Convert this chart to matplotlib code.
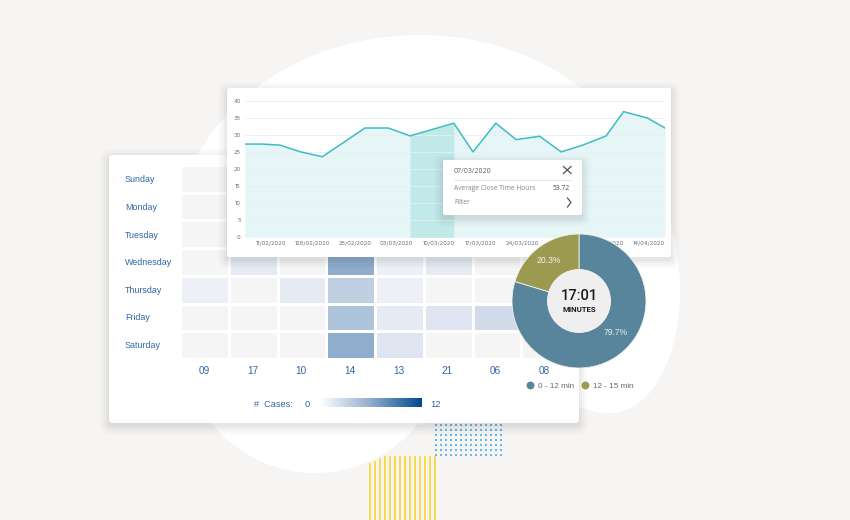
import numpy as np
import matplotlib
matplotlib.use("Agg")
import matplotlib.pyplot as plt
from matplotlib.colors import LinearSegmentedColormap
from matplotlib.patches import Circle, FancyBboxPatch, PathPatch, Rectangle
from matplotlib.path import Path

# line chart data (days counted from 11/02/2020)
line_days = [-4.3, -1.5, 1.5, 5, 8.6, 15.7, 19.6, 23.2, 30.5, 33.7, 37.5, 40.9, 44.8, 48.4, 52, 55.9, 58.8, 62.8, 65.7]
line_values = [27.3, 27.3, 27, 25, 23.6, 32, 32, 29.7, 33.4, 25, 33.4, 28.6, 29.6, 25, 27, 29.7, 36.8, 34.9, 32]
band_days = [23.2, 30.5]
date_ticks = [0, 7, 14, 21, 28, 35, 42, 49, 56, 63]
date_labels = ["11/02/2020", "128/02/2020", "25/02/2020", "03/03/2020", "10/03/2020",
               "17/03/2020", "24/03/2020", "31/03/2020", "07/04/2020", "14/04/2020"]
y_ticks = [0, 5, 10, 15, 20, 25, 30, 35, 40]

# heatmap data
days = ["Sunday", "Monday", "Tuesday", "Wednesday", "Thursday", "Friday", "Saturday"]
hours = ["09", "17", "10", "14", "13", "21", "06", "08"]
cases = [
    [0, 0, 0, 0, 0, 0, 0, 0],
    [0, 0, 0, 0, 0, 0, 0, 0],
    [0, 0, 0, 0, 0, 0, 0, 0],
    [0, 1.5, 0, 5, 1, 1.5, 0, 0],
    [1, 0, 1.5, 3, 1, 0, 0, 0],
    [0, 0, 0, 4, 1.5, 2, 2.5, 2.5],
    [0, 0, 0, 5, 2, 0, 0, 0],
]

# donut data
donut_labels = ["0 - 12 min", "12 - 15 min"]
donut_shares = [79.7, 20.3]

BLUE_TEXT = "#2f66a8"
TEAL = "#3dbcc4"
DONUT_COLORS = ["#58849c", "#9c9a50"]
W, H = 850, 520

plt.rcParams["font.family"] = ["Liberation Sans", "DejaVu Sans"]
fig = plt.figure(figsize=(W / 100, H / 100), dpi=100, facecolor="#f6f5f3")


def px_axes(left, top, right, bottom, zorder):
    # axes placed with image pixel coordinates
    return fig.add_axes([left / W, 1 - bottom / H, (right - left) / W, (bottom - top) / H], zorder=zorder)


def overlay(zorder):
    ax = px_axes(0, 0, W, H, zorder)
    ax.set_xlim(0, W)
    ax.set_ylim(H, 0)
    ax.axis("off")
    return ax


def card(ax, x0, y0, x1, y1, radius=2):
    for grow, alpha in [(9, 0.01), (7, 0.014), (5, 0.018), (3, 0.022), (1, 0.026)]:
        ax.add_patch(FancyBboxPatch((x0 - grow, y0 - grow + 3), x1 - x0 + 2 * grow, y1 - y0 + 2 * grow,
                                    boxstyle=f"round,pad=0,rounding_size={radius + grow}",
                                    fc="black", ec="none", alpha=alpha))
    ax.add_patch(FancyBboxPatch((x0, y0), x1 - x0, y1 - y0, boxstyle=f"round,pad=0,rounding_size={radius}",
                                fc="white", ec="none"))


# background shapes
bg = overlay(0)
blob = Path(
    [(198, 155), (235, 85), (320, 35), (420, 35), (490, 35), (545, 60), (580, 87),
     (640, 135), (680, 210), (680, 290), (680, 360), (650, 413), (610, 413),
     (570, 413), (530, 380), (500, 340), (300, 300), (198, 155)],
    [Path.MOVETO, Path.CURVE4, Path.CURVE4, Path.CURVE4, Path.CURVE4, Path.CURVE4, Path.CURVE4,
     Path.CURVE4, Path.CURVE4, Path.CURVE4, Path.CURVE4, Path.CURVE4, Path.CURVE4,
     Path.CURVE4, Path.CURVE4, Path.CURVE4, Path.LINETO, Path.CLOSEPOLY])
bg.add_patch(PathPatch(blob, fc="white", ec="none"))
bg.add_patch(Circle((315, 340), 133, fc="white", ec="none"))
bg.add_patch(Rectangle((200, 160), 200, 200, fc="white", ec="none"))

dot_x, dot_y = np.meshgrid(np.arange(14), np.arange(7))
bg.scatter(436 + dot_x * 5, 425 + dot_y * 5, s=2.0, marker="s", color="#5dbcec", linewidths=0)
stripe_tops = [463, 461, 458] + [456] * 11
for i, top in enumerate(stripe_tops):
    bg.plot([370 + i * 5, 370 + i * 5], [top, 520], color="#ffd21f", lw=1.1, solid_capstyle="butt")

# heatmap card
card(bg, 109, 155, 579, 423, radius=3)
for i, day in enumerate(days):
    bg.text(125, 182.5 + i * 27.6, day, color=BLUE_TEXT, fontsize=6.4, va="baseline", ha="left")
for i, hour in enumerate(hours):
    bg.text(204 + i * 48.6, 373.5, hour, color=BLUE_TEXT, fontsize=7.2, va="baseline", ha="center")
bg.text(254, 407, "#  Cases:", color=BLUE_TEXT, fontsize=6.6, va="baseline", ha="left")
bg.text(307, 407, "0", color=BLUE_TEXT, fontsize=6.8, va="baseline", ha="center")
bg.text(436, 407, "12", color=BLUE_TEXT, fontsize=6.8, va="baseline", ha="center")

heat_cmap = LinearSegmentedColormap.from_list("cases", [
    (0, "#f5f5f5"), (1 / 12, "#eef0f7"), (2 / 12, "#dfe5f0"), (3 / 12, "#c0cfe2"),
    (4 / 12, "#adc3da"), (5 / 12, "#8fadcd"), (1, "#004a8f")])
ax_heat = px_axes(180, 165, 570, 359, 1)
ax_heat.pcolormesh(np.array(cases), cmap=heat_cmap, vmin=0, vmax=12, edgecolors="white", linewidth=1.0)
ax_heat.invert_yaxis()
ax_heat.axis("off")

ax_scale = px_axes(320, 398, 422, 407, 1)
scale_cmap = LinearSegmentedColormap.from_list("scale", ["#ffffff", "#8fadcd", "#004a8f"])
ax_scale.imshow(np.linspace(0, 1, 200)[None, :], cmap=scale_cmap, aspect="auto")
ax_scale.axis("off")

# line chart card
top_layer = overlay(2)
card(top_layer, 227, 88, 671, 257)
ax_line = px_axes(245, 100.7, 665, 237.3, 3)
ax_line.patch.set_alpha(0)
ax_line.fill_between(line_days, line_values, color="#e6f5f6", lw=0, zorder=1)
band_mask = (np.array(line_days) >= band_days[0]) & (np.array(line_days) <= band_days[1])
ax_line.fill_between(np.array(line_days)[band_mask], np.array(line_values)[band_mask], color="#c1e9ea", lw=0, zorder=1)
ax_line.grid(axis="y", color="#e6eef5", lw=0.6, zorder=2)
ax_line.set_axisbelow(False)
ax_line.plot(line_days, line_values, color=TEAL, lw=1.1, solid_joinstyle="miter", zorder=5)
ax_line.set_xlim(line_days[0], line_days[-1])
ax_line.set_ylim(0, 40)
ax_line.set_yticks(y_ticks)
ax_line.set_xticks(date_ticks, date_labels)
ax_line.tick_params(length=0, labelsize=4.2, labelcolor="#6a7078", pad=3)
ax_line.set_yticklabels(y_ticks, family=["Inter", "DejaVu Sans"])
for tick in ax_line.get_xticklabels():
    tick.set_family(["Inter", "DejaVu Sans"])
for side in ax_line.spines.values():
    side.set_visible(False)

# tooltip
tip = overlay(4)
card(tip, 443, 160, 582, 215, radius=2)
tip_font = ["Open Sans", "DejaVu Sans"]
tip.text(454, 173, "07/03/2020", color="#5a5f68", fontsize=5, va="baseline", family=tip_font)
tip.plot([454, 571], [180, 180], color="#e8e8e8", lw=0.7)
tip.text(454, 190, "Average Close Time Hours", color="#80858d", fontsize=4.8, va="baseline", family=tip_font)
tip.text(570, 190.5, "53.72", color="#444952", fontsize=4.8, va="baseline", ha="right", family=tip_font)
tip.text(454, 204.5, "Filter", color="#80858d", fontsize=4.8, va="baseline", family=tip_font)
tip.plot([563.5, 571], [166.5, 173.5], color="#50555c", lw=0.9)
tip.plot([563.5, 571], [173.5, 166.5], color="#50555c", lw=0.9)
tip.plot([567.5, 571, 567.5], [198, 202.5, 207], color="#50555c", lw=0.9)

# donut
ax_donut = px_axes(512, 234, 646, 368, 5)
wedges, _ = ax_donut.pie(donut_shares, colors=DONUT_COLORS, startangle=90, counterclock=False, radius=1,
                         wedgeprops=dict(width=0.53, edgecolor="#f2f2ec", linewidth=0.6))
ax_donut.add_patch(Circle((0, 0), 0.47, fc="#efefef", ec="none"))
ax_donut.set_xlim(-1, 1)
ax_donut.set_ylim(-1, 1)
ax_donut.text(0.54, -0.47, f"{donut_shares[0]}%", color="#e8eef1", fontsize=6.2, ha="center", va="center")
ax_donut.text(-0.45, 0.6, f"{donut_shares[1]}%", color="#f3f3e6", fontsize=6.2, ha="center", va="center")
ax_donut.text(0, 0.07, "17:01", color="#1c1c1c", fontsize=10.6, ha="center", va="center",
              family=["Roboto", "DejaVu Sans"], fontweight="medium")
ax_donut.text(0, -0.12, "MINUTES", color="#1c1c1c", fontsize=5.6, ha="center", va="center",
              family=["Roboto", "DejaVu Sans"], fontweight="bold")

# donut legend
legend_layer = overlay(6)
for x_dot, label, color in zip([530, 585.5], donut_labels, DONUT_COLORS):
    legend_layer.scatter([x_dot], [385], s=32, color=color, linewidths=0)
    legend_layer.text(x_dot + 8, 388, label, color="#5f6b75", fontsize=5.9, va="baseline", ha="left")

fig.savefig("out.png", dpi=100, facecolor=fig.get_facecolor())
